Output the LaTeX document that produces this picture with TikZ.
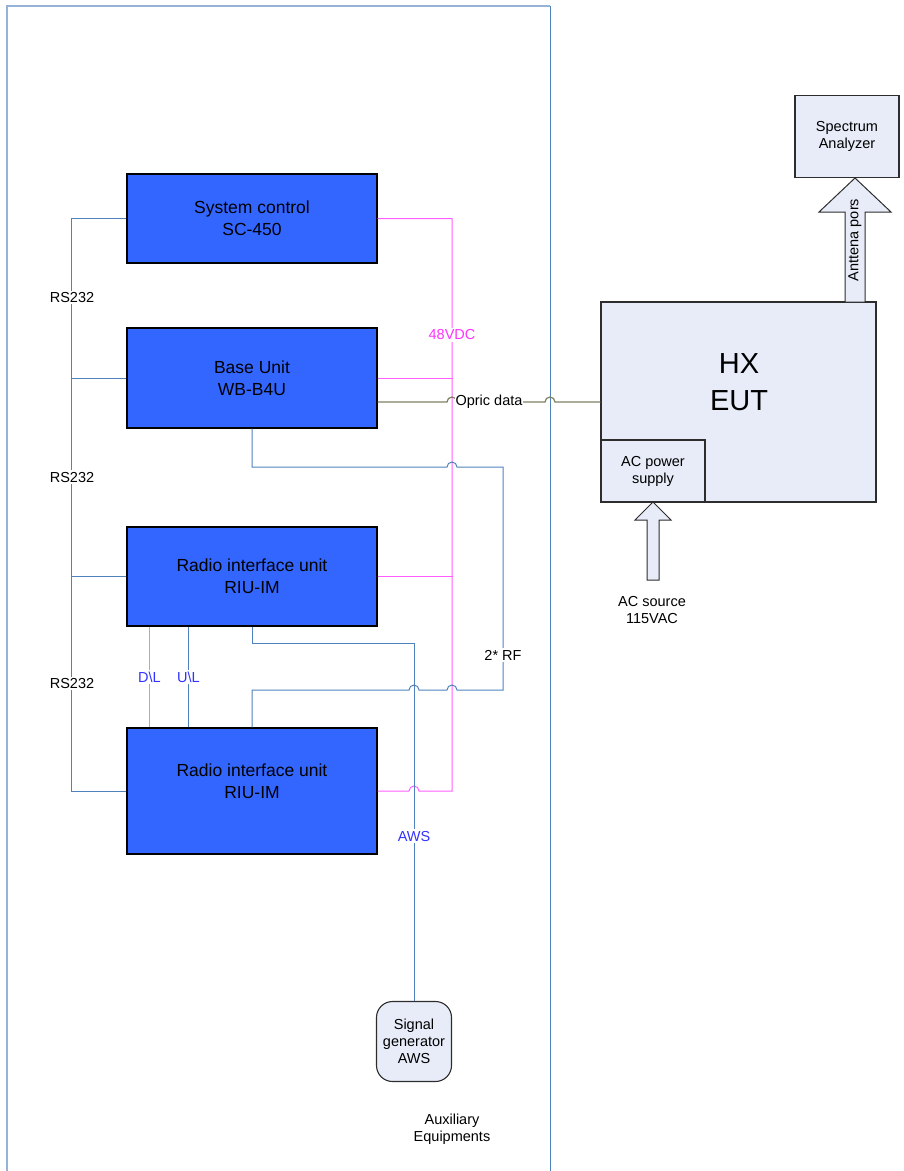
\documentclass[tikz,border=0pt]{standalone}
\usepackage{fontspec}
\setmainfont{Liberation Sans}
\usepackage{tikz}
\usetikzlibrary{positioning}

\begin{document}
\begin{tikzpicture}[x=1pt,y=-1pt,
	unit box/.style={draw=black,line width=1.2pt,fill=boxblue,minimum width=250pt,align=center,font=\fontsize{17.5}{22}\selectfont},
	pale box/.style={draw=edgegray,line width=1.1pt,fill=palefill,align=center,font=\fontsize{14.5}{17}\selectfont},
	bus line/.style={draw=lineblue,line width=1pt},
	dc line/.style={draw=dcpink,line width=1pt},
	opt line/.style={draw=optolive,line width=1.2pt},
	dl line/.style={draw=dlblue,line width=1.8pt},
	tag/.style={fill=white,inner sep=1.5pt,font=\fontsize{14.5}{17}\selectfont},
	wide arrow/.style={draw=edgegray,line width=1pt,fill=palefill}]
	
	\definecolor{boxblue}{RGB}{51,102,255}
	\definecolor{palefill}{RGB}{231,236,248}
	\definecolor{edgegray}{RGB}{45,45,45}
	\definecolor{lineblue}{RGB}{79,129,189}
	\definecolor{dlblue}{RGB}{149,179,215}
	\definecolor{dcpink}{RGB}{255,95,255}
	\definecolor{optolive}{RGB}{128,128,98}
	\definecolor{tagblue}{RGB}{51,51,255}
	\definecolor{tagpink}{RGB}{255,51,255}
	
	\useasboundingbox (0,0) rectangle (904,1171);
	
	% rack frame
	\draw[draw=dlblue,line width=1.2pt] (7,1171) -- (7,6) -- (550,6);
	\draw[bus line] (550,6) -- (550,1171);
	
	\node[unit box,minimum height=89pt] (sc) at (252,218.5) {System control\\SC-450};
	\node[unit box,minimum height=100pt,node distance=159.5pt,below of=sc] (bu) {Base Unit\\WB-B4U};
	\node[unit box,minimum height=99pt,node distance=198.5pt,below of=bu] (riu1) {Radio interface unit\\RIU-IM};
	\node[unit box,minimum height=126pt,text depth=20pt,node distance=214.5pt,below of=riu1] (riu2) {Radio interface unit\\RIU-IM};
	
	\node[pale box,minimum width=104pt,minimum height=82pt] (sa) at (847,136.5) {Spectrum\\Analyzer};
	\node[pale box,minimum width=275pt,minimum height=200pt] (hx) at (738.5,402) {};
	\node[font=\fontsize{29}{36.5}\selectfont,align=center] (eut) at (739,382) {HX\\EUT};
	\node[pale box,anchor=south west,minimum width=104pt,minimum height=62pt] (acps) at (hx.south west) {AC power\\supply};
	\node[pale box,rounded corners=16pt,minimum width=75pt,minimum height=80pt] (sg) at (414,1041.5) {Signal\\generator\\AWS};
	
	\node[align=center,font=\fontsize{14.5}{17}\selectfont] (aux) at (452,1129) {Auxiliary\\Equipments};
	\node[align=center,font=\fontsize{14.5}{17}\selectfont] (acsrc) at (652,610) {AC source\\115VAC};
	
	% block arrows
	\filldraw[wide arrow] (845,302) -- (845,212) -- (819,212) -- (855,178) -- (891,212) -- (865,212) -- (865,302) -- cycle;
	\node[rotate=90,font=\fontsize{14.5}{17}\selectfont] (ant) at (855,240) {Anttena pors};
	\filldraw[wide arrow] (647,580) -- (647,520) -- (635,520) -- (653,502) -- (671,520) -- (659,520) -- (659,580) -- cycle;
	
	% RS232 bus
	\draw[bus line] (sc.west) -- ++(-55,0) |- (riu2.west);
	\draw[bus line] (bu.west) -- ++(-55,0);
	\draw[bus line] (riu1.west) -- ++(-55,0);
	\node[tag] at (72,297.5) {RS232};
	\node[tag] at (72,477) {RS232};
	\node[tag] at (72,683.5) {RS232};
	
	% 48VDC supply
	\draw[dc line] (sc.east) -- (452,218.5) -- (452,791) -- (419,791) arc[start angle=0,end angle=180,radius=5pt] -- (riu2.east);
	\draw[dc line] (bu.east) -- ++(75,0);
	\draw[dc line] (riu1.east) -- ++(75,0);
	\node[tag,text=tagpink] at (452,335) {48VDC};
	
	% optic data
	\draw[opt line] ([yshift=-24pt]bu.east) -- (447,402) arc[start angle=180,end angle=0,radius=5pt]
		-- (545,402) arc[start angle=180,end angle=0,radius=5pt] -- (hx.west);
	\node[tag,inner sep=0.5pt] at (489,402) {Opric data};
	
	% RF pair
	\draw[bus line] (bu.south) -- (252,467) -- (447,467) arc[start angle=180,end angle=0,radius=5pt]
		-- (503,467) -- (503,690) -- (457,690) arc[start angle=0,end angle=180,radius=5pt]
		-- (419,690) arc[start angle=0,end angle=180,radius=5pt] -- (252,690) -- (riu2.north);
	\node[tag] at (503,655) {2* RF};
	
	% AWS feed
	\draw[bus line] (riu1.south) -- (252,643) -- (414,643) -- (sg.north);
	\node[tag,text=tagblue] at (414,836) {AWS};
	
	% down / up links
	\draw[dl line] ([xshift=23pt]riu1.south west) -- ([xshift=23pt]riu2.north west)
		node[midway,tag,text=tagblue] {D\textbackslash L};
	\draw[bus line] ([xshift=62pt]riu1.south west) -- ([xshift=62pt]riu2.north west)
		node[midway,tag,text=tagblue] {U\textbackslash L};
\end{tikzpicture}
\end{document}
